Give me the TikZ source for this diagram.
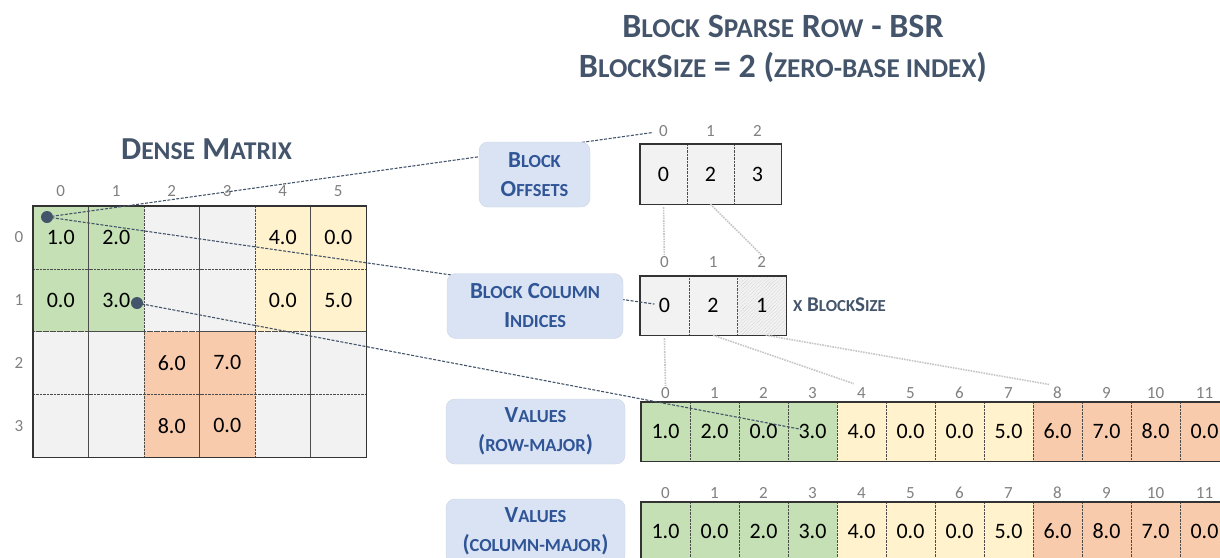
\documentclass[tikz,border=0pt]{standalone}
\usepackage{fontspec}
\setmainfont{Carlito}
\usetikzlibrary{patterns.meta}
\definecolor{cgreen}{HTML}{C5E0B4}
\definecolor{cyellow}{HTML}{FFF2CC}
\definecolor{corange}{HTML}{F8CBAD}
\definecolor{cgray}{HTML}{F2F2F2}
\definecolor{cbox}{HTML}{DAE3F3}
\definecolor{cblue}{HTML}{2F5597}
\definecolor{cslate}{HTML}{44546A}
\definecolor{cidx}{HTML}{808080}
\makeatletter
\newcommand\smallc[1]{{\fontsize{\fpeval{0.8*\f@size}}{\f@baselineskip}\selectfont\MakeUppercase{#1}}}
\makeatother
\tikzstyle{cell}=[draw=gray!60!black,densely dotted,thin,inner sep=0pt,minimum width=55.5pt,minimum height=62.75pt,font=\fontsize{22}{26}\selectfont]
\tikzstyle{idx}=[text=cidx,inner sep=1pt,font=\fontsize{17}{19}\selectfont]
\tikzstyle{border}=[draw=black!80,line width=1.4pt]
\tikzstyle{lbox}=[rounded corners=9pt,fill=cbox,draw=cbox!85!gray,minimum height=65pt,align=center,text=cblue,font=\bfseries\fontsize{23}{29}\selectfont]
\tikzstyle{title}=[anchor=base,text=cslate,font=\bfseries\fontsize{34}{38}\selectfont]
\tikzstyle{dot}=[circle,fill=cslate,minimum size=12pt,inner sep=0pt]
\tikzstyle{link}=[draw=cslate,line width=1.1pt,dash pattern=on 3pt off 1.5pt]
\tikzstyle{guide}=[draw=gray!45,densely dotted,line width=1.6pt]

\begin{document}
\begin{tikzpicture}[x=1pt,y=-1pt]
\useasboundingbox (0,0) rectangle (1220,557);
\clip (0,0) rectangle (1220,557);
% titles
\node[title] (t1) at (783,37) {B\smallc{lock} S\smallc{parse} R\smallc{ow} - BSR};
\node[title] (t2) at (783,77) {B\smallc{lock}S\smallc{ize} = 2 (\smallc{zero-base index})};
\node[title,font=\bfseries\fontsize{32}{36}\selectfont] (tm) at (206.5,159) {D\smallc{ense} M\smallc{atrix}};
% dense matrix
\foreach \r/\c/\f/\v in {0/0/cgreen/1.0, 0/1/cgreen/2.0, 0/2/cgray/, 0/3/cgray/, 0/4/cyellow/4.0, 0/5/cyellow/0.0,
  1/0/cgreen/0.0, 1/1/cgreen/3.0, 1/2/cgray/, 1/3/cgray/, 1/4/cyellow/0.0, 1/5/cyellow/5.0,
  2/0/cgray/, 2/1/cgray/, 2/2/corange/6.0, 2/3/corange/7.0, 2/4/cgray/, 2/5/cgray/,
  3/0/cgray/, 3/1/cgray/, 3/2/corange/8.0, 3/3/corange/0.0, 3/4/cgray/, 3/5/cgray/}
  \node[cell,fill=\f] (m\r\c) at ({33+55.5*(\c+0.5)},{206+62.75*(\r+0.5)}) {\v};
\draw[border] (m00.north west) rectangle (m35.south east);
\foreach \c in {0,...,5}
  \node[idx] (mx\c) at ({33+55.5*(\c+0.5)},191) {\c};
\foreach \r in {0,...,3}
  \node[idx] (my\r) at (19,{206+62.75*(\r+0.5)}) {\r};
% block offsets
\foreach \i/\v in {0/0,1/2,2/3} {
  \node[cell,fill=cgray,minimum width=47pt,minimum height=60pt] (oc\i) at ({640+47*(\i+0.5)},174) {\v};
  \node[idx] (ox\i) at ({640+47*(\i+0.5)},131) {\i};
}
\draw[border] (oc0.north west) rectangle (oc2.south east);
% block column indices
\foreach \i/\v in {0/0,1/2} {
  \node[cell,fill=cgray,minimum width=48.7pt,minimum height=59pt] (ci\i) at ({640+48.7*(\i+0.5)},305.5) {\v};
}
\node[cell,fill=cgray,minimum width=48.7pt,minimum height=59pt,postaction={pattern={Lines[angle=45,distance=2.5pt,line width=0.4pt]},pattern color=gray!55}] (ci2) at ({640+48.7*2.5},305.5) {1};
\foreach \i in {0,1,2}
  \node[idx] (cx\i) at ({640+48.7*(\i+0.5)},262) {\i};
\draw[border] (ci0.north west) rectangle (ci2.south east);
\node[anchor=west,inner sep=0pt,text=cslate,font=\bfseries\fontsize{21}{25}\selectfont] (bs) at (793,305) {\smallc{x} B\smallc{lock}S\smallc{ize}};
% values, row-major
\foreach \i/\f/\v in {0/cgreen/1.0, 1/cgreen/2.0, 2/cgreen/0.0, 3/cgreen/3.0, 4/cyellow/4.0, 5/cyellow/0.0,
  6/cyellow/0.0, 7/cyellow/5.0, 8/corange/6.0, 9/corange/7.0, 10/corange/8.0, 11/corange/0.0} {
  \node[cell,fill=\f,minimum width=49pt,minimum height=59pt] (vr\i) at ({641+49*(\i+0.5)},431.5) {\v};
  \node[idx] (vx\i) at ({641+49*(\i+0.5)},393) {\i};
}
\draw[border] (vr0.north west) rectangle (vr11.south east);
% values, column-major
\foreach \i/\f/\v in {0/cgreen/1.0, 1/cgreen/0.0, 2/cgreen/2.0, 3/cgreen/3.0, 4/cyellow/4.0, 5/cyellow/0.0,
  6/cyellow/0.0, 7/cyellow/5.0, 8/corange/6.0, 9/corange/8.0, 10/corange/7.0, 11/corange/0.0} {
  \node[cell,fill=\f,minimum width=49pt,minimum height=59pt] (vc\i) at ({641+49*(\i+0.5)},531.5) {\v};
  \node[idx] (wx\i) at ({641+49*(\i+0.5)},493) {\i};
}
\draw[border] (vc0.north west) rectangle (vc11.south east);
% guides between the arrays
\draw[guide,shorten <=3pt] (oc0.south) -- (cx0.north);
\draw[guide] (oc1.south) -- (cx2.north);
\draw[guide,shorten <=3pt] (ci0.south) -- (vx0.north);
\draw[guide,shorten >=8pt] (ci1.south) -- (vx4.north);
\draw[guide,shorten >=8pt] ([xshift=4pt]ci2.south) -- (vx8.north);
% links from the matrix
\node[dot] (p00) at (47,217) {};
\node[dot] (p11) at (137,303) {};
\draw[link,shorten >=11pt] (p00.center) -- (ox0.center);
\draw[link,shorten >=10pt] (p00.center) -- (ci0.center);
\draw[link,shorten >=12pt] (p11.center) -- (vr3.center);
% labels
\node[lbox,minimum width=111pt] (lo) at (534.5,174.5) {B\smallc{lock}\\O\smallc{ffsets}};
\node[lbox,minimum width=176pt] (lc) at (535,306) {B\smallc{lock} C\smallc{olumn}\\I\smallc{ndices}};
\node[lbox,minimum width=179pt] (lv) at (535.5,431.5) {V\smallc{alues}\\(\smallc{row-major})};
\node[lbox,minimum width=179pt] (lw) at (535.5,531.5) {V\smallc{alues}\\(\smallc{column-major})};
\end{tikzpicture}
\end{document}
